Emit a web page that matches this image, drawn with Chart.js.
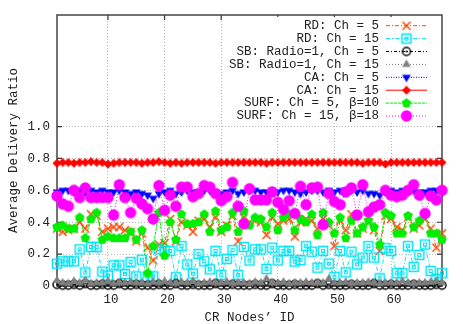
<!DOCTYPE html>
<html><head><meta charset="utf-8">
<script src="https://cdn.jsdelivr.net/npm/chart.js@4/dist/chart.umd.min.js"></script>
<style>html,body{margin:0;padding:0;background:#fff;overflow:hidden}#wrap{width:463px;height:324px;position:relative}</style>
</head><body><div id="wrap"><canvas id="c" width="463" height="324"></canvas></div>
<script>
// ---------- DATA ----------
const nodeIds = [
 1,2,3,4,5,6,7,8,9,10,
 11,12,13,14,15,16,17,18,19,20,
 21,22,23,24,25,26,27,28,29,30,
 31,32,33,34,35,36,37,38,39,40,
 41,42,43,44,45,46,47,48,49,50,
 51,52,53,54,55,56,57,58,59,60,
 61,62,63,64,65,66,67,68,69];

const seriesNames = ["RD: Ch = 5","RD: Ch = 15","SB: Radio=1, Ch = 5","SB: Radio=1, Ch = 15",
  "CA: Ch = 5","CA: Ch = 15","SURF: Ch = 5, \u03b2=10","SURF: Ch = 15, \u03b2=18"];

const rdCh5 = [
 0.36,0.34,0.35,0.36,0.40,0.36,0.45,0.44,0.34,0.36,
 0.37,0.37,0.35,0.34,0.28,0.33,0.24,0.16,0.26,0.27,
 0.42,0.28,0.40,0.38,0.34,0.41,0.42,0.37,0.43,0.34,
 0.38,0.44,0.28,0.43,0.40,0.41,0.40,0.32,0.43,0.39,
 0.41,0.42,0.31,0.40,0.42,0.41,0.36,0.42,0.38,0.25,
 0.41,0.35,0.45,0.33,0.36,0.40,0.35,0.22,0.44,0.42,
 0.37,0.35,0.43,0.36,0.38,0.42,0.36,0.24,0.33];

const rdCh15 = [
 0.14,0.155,0.155,0.155,0.23,0.085,0.245,0.245,0.09,0.065,
 0.13,0.13,0.075,0.15,0.06,0.165,0.055,0.06,0.23,0.22,
 0.22,0.055,0.25,0.135,0.078,0.20,0.155,0.105,0.22,0.07,
 0.17,0.225,0.07,0.245,0.16,0.23,0.23,0.107,0.24,0.16,
 0.22,0.22,0.153,0.163,0.25,0.215,0.115,0.22,0.14,0.058,
 0.22,0.086,0.215,0.136,0.178,0.25,0.178,0.048,0.237,0.22,
 0.08,0.08,0.25,0.12,0.195,0.26,0.094,0.044,0.08];

const sbCh5 = [
 0.01,0.005,0.005,0.01,0.005,0.015,0.005,0.005,0.01,0.005,
 0.005,0.015,0.005,0.005,0.01,0.005,0.005,0.005,0.01,0.005,
 0.005,0.015,0.005,0.005,0.01,0.005,0.005,0.005,0.015,0.005,
 0.005,0.01,0.005,0.005,0.005,0.01,0.005,0.005,0.015,0.005,
 0.005,0.005,0.01,0.005,0.005,0.005,0.015,0.005,0.01,0.005,
 0.005,0.005,0.01,0.005,0.005,0.005,0.015,0.005,0.005,0.01,
 0.005,0.005,0.005,0.01,0.005,0.005,0.005,0.01,0.005];

const sbCh15 = [
 0.035,0.02,0.015,0.03,0.02,0.035,0.015,0.02,0.02,0.03,
 0.015,0.02,0.02,0.025,0.02,0.02,0.015,0.025,0.02,0.03,
 0.02,0.015,0.025,0.02,0.03,0.015,0.02,0.025,0.02,0.02,
 0.025,0.015,0.02,0.02,0.015,0.025,0.02,0.045,0.02,0.02,
 0.025,0.015,0.02,0.02,0.025,0.02,0.02,0.02,0.045,0.02,
 0.02,0.025,0.015,0.02,0.02,0.025,0.02,0.015,0.02,0.02,
 0.02,0.03,0.02,0.015,0.02,0.02,0.025,0.03,0.02];

const caCh5 = [
 0.59,0.60,0.60,0.59,0.60,0.59,0.60,0.59,0.60,0.59,
 0.59,0.60,0.59,0.58,0.59,0.58,0.57,0.55,0.58,0.59,
 0.60,0.58,0.59,0.60,0.59,0.59,0.60,0.60,0.59,0.58,
 0.59,0.60,0.58,0.59,0.60,0.60,0.59,0.59,0.60,0.59,
 0.60,0.60,0.59,0.58,0.59,0.60,0.60,0.59,0.60,0.59,
 0.60,0.59,0.60,0.59,0.60,0.58,0.58,0.57,0.59,0.60,
 0.59,0.60,0.59,0.60,0.59,0.59,0.60,0.60,0.59];

const caCh15 = [
 0.77,0.775,0.775,0.77,0.775,0.775,0.78,0.775,0.775,0.765,
 0.77,0.775,0.775,0.775,0.775,0.77,0.775,0.775,0.78,0.775,
 0.77,0.775,0.77,0.775,0.775,0.775,0.775,0.775,0.77,0.775,
 0.775,0.775,0.775,0.775,0.775,0.775,0.775,0.77,0.775,0.775,
 0.775,0.775,0.775,0.775,0.775,0.775,0.775,0.775,0.775,0.775,
 0.775,0.775,0.775,0.775,0.77,0.775,0.775,0.775,0.765,0.775,
 0.775,0.775,0.775,0.775,0.775,0.775,0.775,0.775,0.775];

const surfCh5 = [
 0.37,0.38,0.36,0.36,0.43,0.30,0.42,0.46,0.29,0.31,
 0.30,0.30,0.30,0.34,0.29,0.35,0.08,0.25,0.46,0.19,
 0.40,0.29,0.45,0.39,0.39,0.40,0.45,0.34,0.47,0.35,
 0.37,0.46,0.34,0.47,0.38,0.43,0.42,0.37,0.46,0.35,
 0.43,0.45,0.35,0.42,0.40,0.45,0.32,0.46,0.40,0.33,
 0.43,0.30,0.41,0.33,0.37,0.41,0.37,0.26,0.46,0.44,
 0.33,0.33,0.44,0.37,0.41,0.45,0.33,0.33,0.29];

const surfCh15 = [
 0.565,0.515,0.50,0.60,0.555,0.615,0.555,0.555,0.555,0.555,
 0.445,0.635,0.555,0.46,0.55,0.515,0.485,0.42,0.63,0.475,
 0.57,0.50,0.62,0.62,0.56,0.58,0.63,0.62,0.58,0.535,
 0.56,0.65,0.50,0.39,0.61,0.54,0.54,0.54,0.59,0.525,
 0.48,0.535,0.455,0.625,0.51,0.615,0.62,0.385,0.58,0.53,
 0.51,0.59,0.615,0.445,0.635,0.465,0.495,0.51,0.60,0.57,
 0.56,0.57,0.60,0.635,0.57,0.455,0.565,0.54,0.60];

const xTicks = [10,20,30,40,50,60];
const yTicks = [0,0.2,0.4,0.6,0.8,1.0];
const yTickLabels = ["0","0.2","0.4","0.6","0.8","1.0"];
const xTitle = "CR Nodes\u2019 ID";
const yTitle = "Average Delivery Ratio";

// ---------- STYLES ----------
const FONT = "'Liberation Mono','DejaVu Sans Mono',monospace";
const FS = 12.5;

function mk(draw){const c=document.createElement('canvas');c.width=16;c.height=16;const g=c.getContext('2d');g.translate(8,8);draw(g);return c;}
function poly(g,n,r,rot){g.beginPath();for(let i=0;i<n;i++){const a=rot+i*2*Math.PI/n;const px=r*Math.sin(a),py=-r*Math.cos(a);i?g.lineTo(px,py):g.moveTo(px,py);}g.closePath();}
const markers = [
  mk(g=>{g.strokeStyle='#ff4500';g.lineWidth=1.5;g.beginPath();g.moveTo(-4,-4);g.lineTo(4,4);g.moveTo(-4,4);g.lineTo(4,-4);g.stroke();}),
  mk(g=>{g.strokeStyle='#00e5f5';g.lineWidth=1.5;g.strokeRect(-4.5,-4.5,9,9);g.lineWidth=1;g.strokeRect(-1.5,-1.5,3,3);}),
  mk(g=>{g.strokeStyle='#000';g.lineWidth=1.5;g.beginPath();g.arc(0,0,4,0,Math.PI*2);g.stroke();g.fillStyle='#000';g.beginPath();g.arc(0,0,1,0,Math.PI*2);g.fill();}),
  mk(g=>{g.fillStyle='#808080';poly(g,3,5,0);g.fill();}),
  mk(g=>{g.fillStyle='#0000ff';poly(g,3,5,Math.PI);g.fill();}),
  mk(g=>{g.fillStyle='#ff0000';poly(g,4,4.5,0);g.fill();}),
  mk(g=>{g.fillStyle='#00ee00';poly(g,5,5,0);g.fill();}),
  mk(g=>{g.fillStyle='#ff00ff';g.beginPath();g.arc(0,0,5.7,0,Math.PI*2);g.fill();})
];
const lineColors = ['#ff4500','#00e5f5','#000000','#808080','#0000ff','#ff0000','#00ee00','#ff00ff'];
const lineDashes = [[4,2,1,2],[4,2,1,2],[3,2,1,2],[1,2],[1,1.5],[],[3,1],[1,2]];
const seriesData = [rdCh5, rdCh15, sbCh5, sbCh15, caCh5, caCh15, surfCh5, surfCh15];

const datasets = seriesData.map((arr,k)=>({
  label: seriesNames[k],
  data: nodeIds.map((x,i)=>({x:x,y:arr[i]})),
  borderColor: lineColors[k],
  backgroundColor: lineColors[k],
  borderWidth: 1,
  borderDash: lineDashes[k],
  pointStyle: markers[k],
  pointRadius: 4,
  tension: 0,
  clip: false,
  order: 8-k
}));

const frame = {
  id:'frame',
  beforeDatasetsDraw(chart){
    const {ctx, chartArea:a, scales} = chart;
    ctx.save();
    ctx.strokeStyle='#333'; ctx.lineWidth=1.2;
    ctx.beginPath();
    xTicks.forEach(v=>{const p=scales.x.getPixelForValue(v);ctx.moveTo(p,a.bottom);ctx.lineTo(p,a.bottom-5);ctx.moveTo(p,a.top);ctx.lineTo(p,a.top+5);});
    yTicks.forEach(v=>{const p=scales.y.getPixelForValue(v);ctx.moveTo(a.left,p);ctx.lineTo(a.left+5,p);ctx.moveTo(a.right,p);ctx.lineTo(a.right-5,p);});
    ctx.stroke();
    ctx.strokeStyle='#444'; ctx.lineWidth=1.5;
    ctx.strokeRect(a.left,a.top,a.right-a.left,a.bottom-a.top);
    ctx.restore();
  },
  afterDraw(chart){
    const ctx = chart.ctx;
    ctx.save();
    ctx.fillStyle='#fff';
    ctx.fillRect(224,17,216,106);
    ctx.font = FS+"px "+FONT;
    ctx.textAlign='right'; ctx.textBaseline='middle';
    chart.data.datasets.forEach((ds,k)=>{
      const y = 25.7 + k*12.9;
      ctx.fillStyle='#222';
      ctx.fillText(ds.label, 379, y);
      ctx.strokeStyle=ds.borderColor; ctx.lineWidth=1;
      ctx.setLineDash(ds.borderDash);
      ctx.beginPath(); ctx.moveTo(386,y); ctx.lineTo(427,y); ctx.stroke();
      ctx.setLineDash([]);
      ctx.drawImage(ds.pointStyle, 406.5-8, y-8);
    });
    ctx.restore();
  }
};

new Chart(document.getElementById('c'), {
  type:'line',
  data:{datasets},
  plugins:[frame],
  options:{
    responsive:false, animation:false,
    layout:{padding:{top:15,right:21,left:0,bottom:0}},
    plugins:{legend:{display:false},tooltip:{enabled:false}},
    scales:{
      x:{type:'linear', min:1, max:69,
        afterBuildTicks:s=>{s.ticks=xTicks.map(v=>({value:v}));},
        afterFit:s=>{s.height=38;},
        grid:{color:'#b8b8b8', lineWidth:1, drawTicks:false},
        border:{display:false, dash:[1,2]},
        ticks:{font:{family:FONT,size:FS}, color:'#222', padding:6, labelOffset:3, maxRotation:0, autoSkip:false, callback:v=>String(v)},
        title:{display:true, text:xTitle, color:'#222', font:{family:FONT,size:FS,lineHeight:1}, padding:{top:0,bottom:0}}
      },
      y:{min:0, max:1.7,
        afterBuildTicks:s=>{s.ticks=yTicks.map(v=>({value:v}));},
        afterFit:s=>{s.width=57;},
        grid:{color:'#b8b8b8', lineWidth:1, drawTicks:false},
        border:{display:false, dash:[1,2]},
        ticks:{font:{family:FONT,size:FS}, color:'#222', padding:7, autoSkip:false, callback:(v,i)=>yTickLabels[i]},
        title:{display:true, text:yTitle, color:'#222', font:{family:FONT,size:FS}, padding:{top:6,bottom:0}}
      }
    }
  }
});
</script></body></html>
